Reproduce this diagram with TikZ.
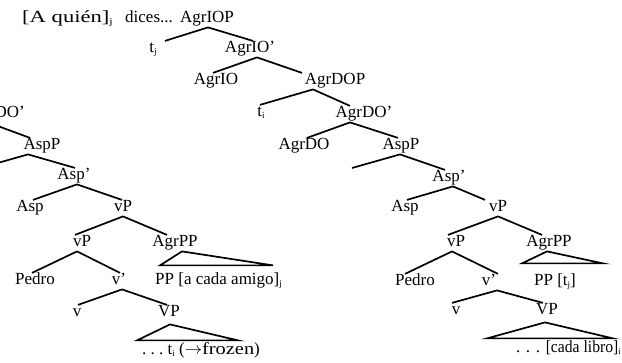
\documentclass[tikz,border=0pt]{standalone}
\usepackage{fontspec}
\setmainfont{Liberation Serif}
\newcommand\lsub[1]{\raisebox{-1.2pt}{\fontsize{9}{9}\selectfont #1}}
\begin{document}
\begin{tikzpicture}[x=1pt,y=-1pt,
  lab/.style={anchor=base,inner sep=0pt,font=\fontsize{17}{20}\selectfont,text height=11.9pt,text depth=4.2pt},
  br/.style={line width=1.7pt}]
\useasboundingbox (0,0) rectangle (622,363);
\clip (0,0) rectangle (622,363);
% ---------- right tree ----------
\node[lab,anchor=base west] (intro) at (22,23) {\scalebox{1.33}[1]{[A quién]\lsub{j}}};
\node[lab,anchor=base west] (dices) at (125,23) {dices...};
\node[lab] (agriop) at (207,23) {AgrIOP};
\node[lab] (tj) at (153,53) {t\lsub{j}};
\node[lab] (agrioB) at (250,53) {AgrIO'};
\node[lab] (agrio) at (216,85) {AgrIO};
\node[lab] (agrdop) at (335,85) {AgrDOP};
\node[lab] (tiR) at (261,117) {t\lsub{i}};
\node[lab] (agrdoBR) at (364,118) {AgrDO'};
\node[lab] (agrdoR) at (304,150) {AgrDO};
\node[lab] (asppR) at (401,150) {AspP};
\node[lab] (aspbR) at (449,182) {Asp'};
\node[lab] (aspR) at (405,212) {Asp};
\node[lab] (vpR) at (498,212) {vP};
\node[lab] (vpbR) at (456,247) {vP};
\node[lab] (agrppR) at (549,247) {AgrPP};
\node[lab] (pedroR) at (415,286) {Pedro};
\node[lab] (vbR) at (489,286) {v'};
\node[lab] (ppR) at (555,286) {PP [t\lsub{j}]};
\node[lab] (vR) at (456,315) {v};
\node[lab] (VPR) at (547,315) {VP};
\node[lab,anchor=base east] (libro) at (621,353) {.\,\,.\,\,.\,\,\scalebox{0.92}[1]{[cada libro]}\lsub{i}};
\coordinate (specR) at (352,168);
\draw[br] ([xshift=1pt]agriop.south) -- ([xshift=12pt]tj.north);
\draw[br] ([xshift=1pt]agriop.south) -- ([xshift=3pt]agrioB.north);
\draw[br] ([xshift=7pt]agrioB.south) -- ([xshift=-3pt]agrio.north);
\draw[br] ([xshift=7pt]agrioB.south) -- ([xshift=-33pt]agrdop.north);
\draw[br] ([xshift=-22pt]agrdop.south) -- ([xshift=-1pt]tiR.north);
\draw[br] ([xshift=-22pt]agrdop.south) -- ([xshift=-14pt]agrdoBR.north);
\draw[br] ([xshift=-14pt]agrdoBR.south) -- ([xshift=3pt]agrdoR.north);
\draw[br] ([xshift=-14pt]agrdoBR.south) -- ([xshift=-3pt]asppR.north);
\draw[br] ([xshift=-1pt]asppR.south) -- (specR);
\draw[br] ([xshift=-1pt]asppR.south) -- ([xshift=-4pt]aspbR.north);
\draw[br] ([xshift=4pt]aspbR.south) -- ([xshift=2pt]aspR.north);
\draw[br] ([xshift=4pt]aspbR.south) -- ([xshift=-13pt]vpR.north);
\draw[br] (vpR.south) -- ([xshift=-8pt]vpbR.north);
\draw[br] (vpR.south) -- ([xshift=-7pt]agrppR.north);
\draw[br] ([xshift=-4pt]vpbR.south) -- ([xshift=-10pt]pedroR.north);
\draw[br] ([xshift=-4pt]vpbR.south) -- ([xshift=9pt]vbR.north);
\draw[br] ([xshift=-2pt]agrppR.south) -- ++(-25,12) -- ++(81,0) -- cycle;
\draw[br] ([xshift=8pt]vbR.south) -- ([xshift=-4pt]vR.north);
\draw[br] ([xshift=8pt]vbR.south) -- ([xshift=-4pt]VPR.north);
\draw[br] ([xshift=-2pt,yshift=-3pt]VPR.south) -- ++(-58,16) -- ++(126,0) -- cycle;
% ---------- left tree ----------
\node[lab,anchor=base east] (agrdoBL) at (25,118) {AgrDO'};
\node[lab] (asppL) at (42,150) {AspP};
\node[lab] (aspbL) at (74,180) {Asp'};
\node[lab] (aspL) at (30,212) {Asp};
\node[lab] (vpL) at (123,212) {vP};
\node[lab] (vpbL) at (82,247) {vP};
\node[lab] (agrppL) at (175,247) {AgrPP};
\node[lab] (pedroL) at (35,285) {Pedro};
\node[lab] (vbL) at (119,285) {v'};
\node[lab,anchor=base west] (ppL) at (155,285) {PP [a cada amigo]\lsub{j}};
\node[lab] (vL) at (77,317) {v};
\node[lab] (VPL) at (169,317) {VP};
\node[lab,anchor=base west] (frozen) at (142,355) {.\ .\ .\ t\lsub{i}\ ($\rightarrow$\scalebox{1.2}[1]{frozen})};
\coordinate (specL) at (-20,168);
\draw[br] ([xshift=-37pt]agrdoBL.south east) -- ([xshift=-12pt]asppL.north);
\draw[br] ([xshift=-14pt]asppL.south) -- (specL);
\draw[br] ([xshift=-14pt]asppL.south) -- ([xshift=1pt]aspbL.north);
\draw[br] ([xshift=3pt]aspbL.south) -- ([xshift=3pt]aspL.north);
\draw[br] ([xshift=3pt]aspbL.south) -- ([xshift=-1pt]vpL.north);
\draw[br] (vpL.south) -- ([xshift=-7pt]vpbL.north);
\draw[br] (vpL.south) -- ([xshift=-8pt]agrppL.north);
\draw[br] ([xshift=-5pt]vpbL.south) -- ([xshift=-3pt]pedroL.north);
\draw[br] ([xshift=-5pt]vpbL.south) -- ([xshift=1pt]vbL.north);
\draw[br] ([xshift=7pt]agrppL.south) -- ++(-22,14) -- ++(113,0) -- cycle;
\draw[br] ([xshift=3pt]vbL.south) -- ([xshift=1pt]vL.north);
\draw[br] ([xshift=3pt]vbL.south) -- ([xshift=-2pt]VPL.north);
\draw[br] ([xshift=1pt,yshift=-3pt]VPL.south) -- ++(-33,16) -- ++(101,0) -- cycle;
\end{tikzpicture}
\end{document}
